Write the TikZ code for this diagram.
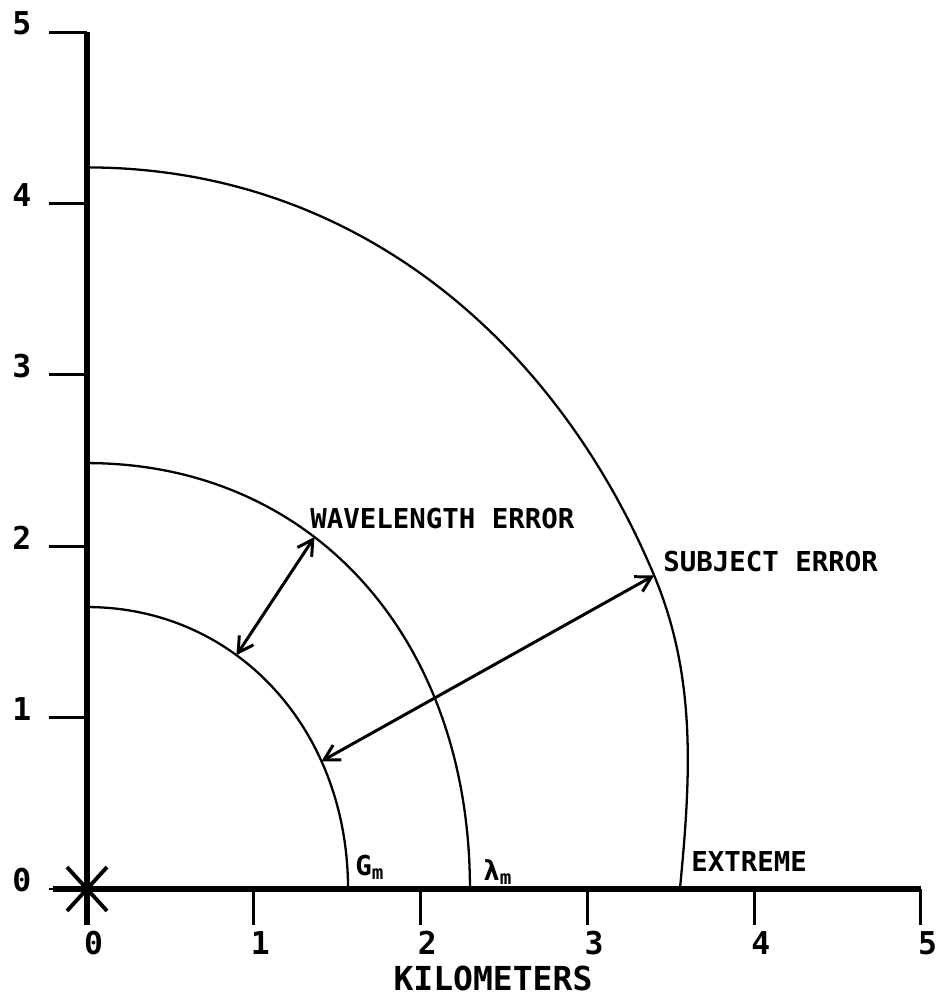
\documentclass[tikz,border=0pt]{standalone}
\usepackage{fontspec}
\newfontfamily\plotfont{DejaVu Sans Mono}
\usetikzlibrary{arrows.meta}

\begin{document}
\begin{tikzpicture}[x=3.336cm,y=3.428cm,
   >={Straight Barb[length=3mm,width=3.4mm]},
   axis/.style={line width=3.2pt},
   tickmark/.style={line width=1.7pt},
   rangearc/.style={line width=1.3pt},
   errarrow/.style={<->,line width=1.7pt},
   lbl/.style={font=\plotfont\bfseries\fontsize{15.6}{18}\selectfont,inner sep=0pt},
   num/.style={font=\plotfont\bfseries\fontsize{17.9}{20}\selectfont,inner sep=0pt},
   axtitle/.style={font=\plotfont\bfseries\fontsize{18.8}{21}\selectfont,inner sep=0pt}]
  \useasboundingbox (-0.5216,-0.6418) rectangle (5.090,5.187);

  % axes
  \coordinate (O) at (0,0);
  \coordinate (xstart) at (-0.204,0);
  \coordinate (xend) at (5,0);
  \coordinate (ystart) at (0,-0.21);
  \coordinate (ytop) at (0,5);
  \draw[axis] (xstart) -- (xend);
  \draw[axis] (ystart) -- (ytop);
  \draw[line width=2.2pt] (O) +(-0.12,0.128) -- +(0.12,-0.128)
                          (O) +(-0.12,-0.128) -- +(0.12,0.128);

  % ticks and numbers
  \foreach \i in {0,...,5} {
    \draw[tickmark] (\i,0) -- (\i,-0.21);
    \node[num] (xl\i) at (\i+0.04,-0.315) {\i};
    \draw[tickmark] (0,\i) -- (-0.228,\i);
    \node[num] (yl\i) at (-0.39,\i+0.05) {\i};
  }
  \node[axtitle] (km) at (2.434,-0.52) {KILOMETERS};

  % ranges
  \draw[rangearc] (0,1.645) .. controls (0.890,1.645) and (1.565,0.936) .. (1.565,0)
    coordinate[pos=0.38] (wlin) coordinate[pos=0.71] (sjin);
  \draw[rangearc] (0,2.485) .. controls (1.352,2.485) and (2.296,1.464) .. (2.296,0)
    coordinate[pos=0.39] (wlout);
  \coordinate (sjout) at (3.40,1.83);
  \draw[rangearc] (0,4.21) .. controls (1.6,4.21) and (2.806,3.207) .. (sjout)
    .. controls (3.657,1.233) and (3.619,0.647) .. (3.555,0);

  \node[lbl,anchor=west] (gm) at (1.607,0.128) {G\textsubscript{m}};
  \node[lbl,anchor=west] (lm) at (2.374,0.099) {λ\textsubscript{m}};
  \node[lbl,anchor=west] (extreme) at (3.621,0.163) {EXTREME};

  % errors
  \draw[errarrow] (wlin) -- (wlout);
  \draw[errarrow] (sjin) -- (sjout);
  \node[lbl,anchor=west] (wavelength) at (1.337,2.162) {WAVELENGTH ERROR};
  \node[lbl,anchor=west] (subject) at (3.453,1.908) {SUBJECT ERROR};
\end{tikzpicture}
\end{document}
